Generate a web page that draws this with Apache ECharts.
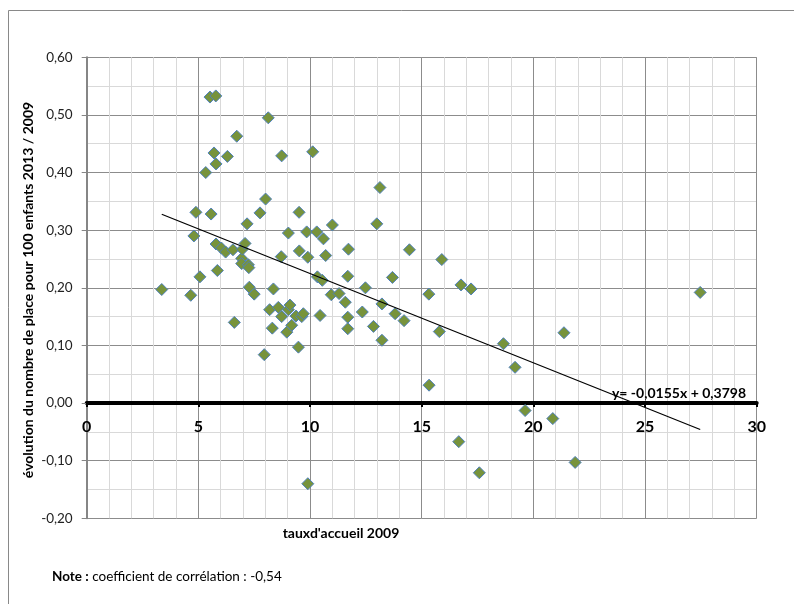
<!DOCTYPE html>
<html><head><meta charset="utf-8">
<script src="https://cdn.jsdelivr.net/npm/echarts@6/dist/echarts.min.js"></script>
<style>html,body{margin:0;padding:0;background:#fff}#c{width:794px;height:604px}</style>
</head><body><div id="c"></div>
<script>
// taux d'accueil 2009 (x) and évolution du nombre de places pour 100 enfants 2013/2009 (y)
const tauxAccueil = [3.36,4.66,4.80,4.89,5.07,5.33,5.52,5.57,5.70,5.78,5.79,5.79,5.85,6.03,6.22,6.30,6.55,6.61,6.72,6.94,
  6.94,6.97,7.09,7.18,7.24,7.26,7.28,7.50,7.76,7.95,8.01,8.13,8.19,8.31,8.36,8.58,8.71,8.73,8.73,8.96,
  9.03,9.03,9.10,9.18,9.37,9.48,9.51,9.52,9.63,9.70,9.85,9.90,9.90,10.12,10.30,10.33,10.45,10.55,10.60,10.70,
  10.95,11.00,11.30,11.58,11.69,11.69,11.69,11.72,12.34,12.48,12.84,12.99,13.13,13.22,13.22,13.69,13.81,14.21,14.45,15.32,
  15.33,15.79,15.90,16.66,16.76,17.21,17.58,18.66,19.18,19.63,20.87,21.37,21.87,27.47];
const evolution = [0.197,0.187,0.290,0.331,0.219,0.400,0.531,0.328,0.434,0.533,0.415,0.276,0.230,0.269,0.262,0.428,0.266,0.140,0.463,0.251,
  0.242,0.267,0.277,0.311,0.240,0.235,0.201,0.189,0.330,0.084,0.354,0.495,0.162,0.130,0.198,0.166,0.254,0.150,0.429,0.123,
  0.295,0.162,0.170,0.135,0.151,0.097,0.331,0.264,0.150,0.155,0.297,0.253,-0.140,0.436,0.297,0.219,0.152,0.213,0.285,0.256,
  0.188,0.309,0.190,0.175,0.220,0.149,0.129,0.267,0.158,0.200,0.133,0.311,0.374,0.172,0.109,0.218,0.155,0.143,0.266,0.189,
  0.031,0.124,0.249,-0.067,0.205,0.198,-0.121,0.103,0.062,-0.013,-0.027,0.122,-0.103,0.192];
const xTickLabels = ['0','5','10','15','20','25','30'];
const yTickLabels = ['-0,20','-0,10','0,00','0,10','0,20','0,30','0,40','0,50','0,60'];
const trendSlope = -0.0155;
const trendIntercept = 0.3798;
const equationText = 'y= -0,0155x + 0,3798';
const xTitle = "tauxd'accueil 2009";
const yTitle = 'évolution du nombre de place pour 100 enfants 2013 / 2009';
const noteLabel = 'Note :';
const noteText = ' coefficient de corrélation : -0,54';

const FONT = 'Lato, "Open Sans", sans-serif';
const points = tauxAccueil.map((x, i) => [x, evolution[i]]);
const xMin = Math.min(...tauxAccueil), xMax = Math.max(...tauxAccueil);
const trend = [[xMin, trendSlope * xMin + trendIntercept], [xMax, trendSlope * xMax + trendIntercept]];

const chart = echarts.init(document.getElementById('c'), null, {renderer: 'canvas'});
chart.setOption({
  animation: false,
  backgroundColor: '#fff',
  grid: {left: 86.7, right: 37.3, top: 57.3, bottom: 85.7, containLabel: false},
  xAxis: {
    type: 'value', min: 0, max: 30, interval: 5, offset: 0,
    axisLine: {show: true, onZero: false, lineStyle: {color: '#000', width: 4}},
    axisTick: {show: true, length: 4, lineStyle: {color: '#000', width: 2}},
    minorTick: {show: false, splitNumber: 5},
    minorSplitLine: {show: true, lineStyle: {color: '#d9d9d9', width: 1}},
    splitLine: {show: true, lineStyle: {color: '#8c8c8c', width: 1}},
    axisLabel: {
      formatter: v => xTickLabels[Math.round(v / 5)],
      fontFamily: FONT, fontWeight: 'bold', fontSize: 16, color: '#000', margin: 16
    }
  },
  yAxis: {
    type: 'value', min: -0.2, max: 0.6, interval: 0.1,
    axisLine: {show: true, onZero: false, lineStyle: {color: '#868686', width: 2}},
    axisTick: {show: true, length: 5, lineStyle: {color: '#868686', width: 1}},
    minorTick: {show: false, splitNumber: 2},
    minorSplitLine: {show: true, lineStyle: {color: '#d9d9d9', width: 1}},
    splitLine: {show: true, lineStyle: {color: '#8c8c8c', width: 1}},
    axisLabel: {
      formatter: v => yTickLabels[Math.round((v + 0.2) * 10)],
      fontFamily: FONT, fontSize: 13.5, color: '#222', margin: 14
    }
  },
  series: [
    {
      type: 'scatter', data: points, symbol: 'diamond', symbolSize: 12,
      itemStyle: {color: '#77933C', borderColor: '#4F81BD', borderWidth: 1, opacity: 1},
      z: 3
    },
    {
      type: 'line', data: trend, symbol: 'none', silent: true,
      lineStyle: {color: '#000', width: 1.2}, z: 4
    }
  ],
  graphic: [
    {type: 'rect', silent: true, z: -1, shape: {x: 8.5, y: 10.5, width: 820, height: 620},
      style: {fill: 'none', stroke: '#898989', lineWidth: 1}},
    {type: 'text', x: 28, y: 290, rotation: Math.PI / 2, silent: true,
      style: {text: yTitle, font: 'bold 14px ' + FONT, fill: '#000', align: 'center', verticalAlign: 'middle', textAlign: 'center', textVerticalAlign: 'middle'}},
    {type: 'text', x: 341, y: 533, silent: true,
      style: {text: xTitle, font: 'bold 14px ' + FONT, fill: '#000', align: 'center', verticalAlign: 'middle', textAlign: 'center', textVerticalAlign: 'middle'}},
    {type: 'text', x: 679, y: 393, silent: true, z: 10,
      style: {text: equationText, font: 'bold 14px ' + FONT, fill: '#000', align: 'center', verticalAlign: 'middle', textAlign: 'center', textVerticalAlign: 'middle'}},
    {type: 'text', x: 52, y: 577, silent: true,
      style: {text: '{b|' + noteLabel + '}' + noteText, font: '13.5px ' + FONT, fill: '#000', align: 'left', verticalAlign: 'middle', textAlign: 'left', textVerticalAlign: 'middle',
        rich: {b: {fontWeight: 'bold', fontSize: 13.5, fontFamily: FONT, fill: '#000', color: '#000'}}}}
  ]
});
// move the x axis (line, ticks, labels) onto y = 0 using the library's own scale
const zeroY = chart.convertToPixel({yAxisIndex: 0}, 0);
const bottomY = chart.convertToPixel({yAxisIndex: 0}, -0.2);
chart.setOption({xAxis: {offset: zeroY - bottomY}});
</script></body></html>
